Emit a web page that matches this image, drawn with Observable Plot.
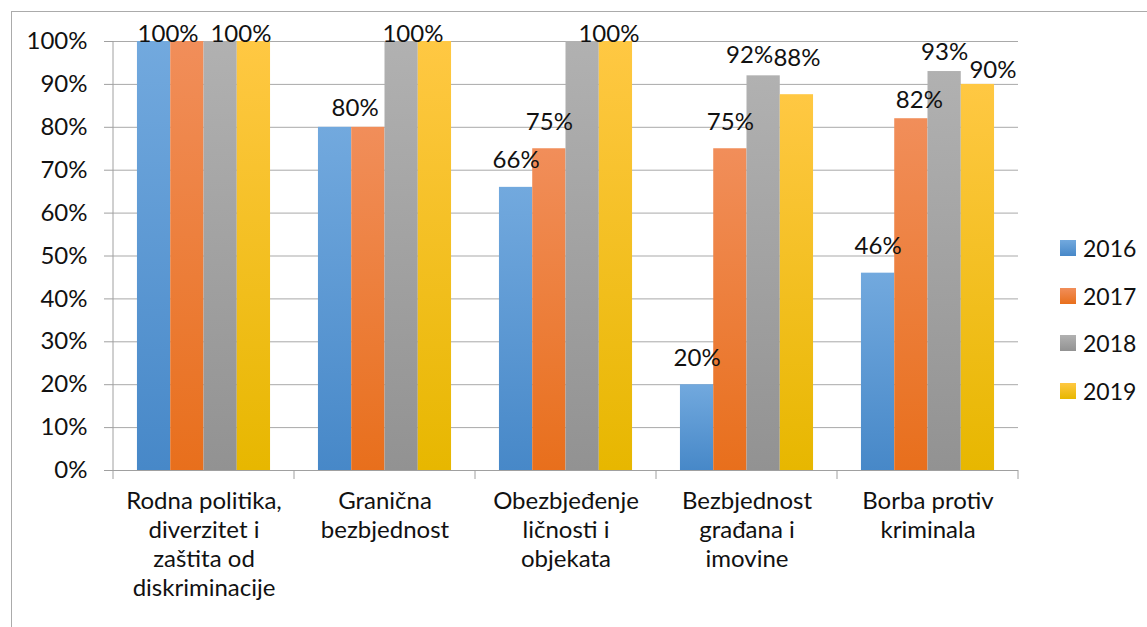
<!DOCTYPE html>
<html>
<head>
<meta charset="utf-8">
<script src="https://cdn.jsdelivr.net/npm/d3@7"></script>
<script src="https://cdn.jsdelivr.net/npm/@observablehq/plot@0.6"></script>
<style>
  html, body { margin: 0; padding: 0; background: #fff; }
  #wrap { position: relative; width: 1147px; height: 627px; overflow: hidden; font-family: Lato, sans-serif; }
  #border { position: absolute; left: 11px; top: 11px; width: 1200px; height: 700px; border-top: 1px solid #ababab; border-left: 1px solid #ababab; }
  #chart { position: absolute; left: 0; top: 0; }
  #legend { position: absolute; left: 1060px; top: 224px; }
  .item { height: 47.7px; display: flex; align-items: center; font-size: 23px; color: #111; }
  .sw { width: 16px; height: 16px; margin-right: 7px; }
</style>
</head>
<body>
<svg width="0" height="0" style="position:absolute">
  <defs id="grads"></defs>
</svg>
<div id="wrap">
  <div id="border"></div>
  <div id="chart"></div>
  <div id="legend"></div>
</div>
<script>
// ---- data ----
const categories = [
  "Rodna politika, diverzitet i zaštita od diskriminacije",
  "Granična bezbjednost",
  "Obezbjeđenje ličnosti i objekata",
  "Bezbjednost građana i imovine",
  "Borba protiv kriminala"
];
const categoryLabels = [
  "Rodna politika,\ndiverzitet i\nzaštita od\ndiskriminacije",
  "Granična\nbezbjednost",
  "Obezbjeđenje\nličnosti i\nobjekata",
  "Bezbjednost\ngrađana i\nimovine",
  "Borba protiv\nkriminala"
];
const years = ["2016", "2017", "2018", "2019"];
const values2016 = [1.00, 0.80, 0.66, 0.20, 0.46];
const values2017 = [1.00, 0.80, 0.75, 0.75, 0.82];
const values2018 = [1.00, 1.00, 1.00, 0.92, 0.93];
const values2019 = [1.00, 1.00, 1.00, 0.876, 0.90];
const yTicks = [0, 0.1, 0.2, 0.3, 0.4, 0.5, 0.6, 0.7, 0.8, 0.9, 1.0];

// which data labels are shown (category index, year)
const shownLabels = [
  [0, "2016"], [0, "2019"],
  [1, "2016"], [1, "2019"],
  [2, "2016"], [2, "2017"], [2, "2019"],
  [3, "2016"], [3, "2017"], [3, "2018"], [3, "2019"],
  [4, "2016"], [4, "2017"], [4, "2018"], [4, "2019"]
];

// ---- styles (manual label nudges, px) ----
const labelNudges = {
  "0|2016": {dx: 14, gap: 0}, "0|2019": {dx: -13, gap: 0},
  "1|2016": {dx: 20, gap: 11}, "1|2019": {dx: -22, gap: 0},
  "2|2019": {dx: -7, gap: 0},
  "3|2018": {dx: -14, gap: 13}, "3|2019": {dx: 0, gap: 29},
  "4|2017": {dx: 8, gap: 11}, "4|2018": {dx: 0, gap: 12}, "4|2019": {dx: 15, gap: 6}
};
const gradStops = {
  "2016": ["#72a9de", "#4788c8"],
  "2017": ["#f18e5a", "#e86f1c"],
  "2018": ["#b1b1b1", "#929292"],
  "2019": ["#ffc843", "#e7b700"]
};
const FS = 24;

// gradients
const defs = d3.select("#grads");
years.forEach(y => {
  const g = defs.append("linearGradient").attr("id", "g" + y)
    .attr("x1", 0).attr("y1", 0).attr("x2", 0).attr("y2", 1);
  g.append("stop").attr("offset", "0%").attr("stop-color", gradStops[y][0]);
  g.append("stop").attr("offset", "100%").attr("stop-color", gradStops[y][1]);
});

const series = [values2016, values2017, values2018, values2019];
const rows = categories.flatMap((c, i) => years.map((y, j) => ({category: c, year: y, value: series[j][i]})));
const fmt = d3.format(".0%");

const labelMarks = shownLabels.map(([ci, y]) => {
  const j = years.indexOf(y);
  const d = {category: categories[ci], year: y, value: series[j][ci]};
  const n = labelNudges[ci + "|" + y] || {dx: 0, gap: 19};
  return Plot.text([d], {
    fx: "category", x: "year", y: "value", text: d => fmt(d.value),
    dx: n.dx, dy: -(n.gap + 0.32 * FS), fontSize: FS, fill: "#111"
  });
});

const labelOf = new Map(categories.map((c, i) => [c, categoryLabels[i]]));

const plot = Plot.plot({
  width: 1147,
  height: 627,
  marginLeft: 113,
  marginRight: 129,
  marginTop: 41,
  marginBottom: 157,
  style: {fontFamily: "Lato, sans-serif", fontSize: FS + "px", background: "transparent", overflow: "visible"},
  fx: {domain: categories, padding: 0, axis: null},
  x: {domain: years, paddingInner: 0, paddingOuter: 0.72, round: false, axis: null},
  y: {domain: [0, 1], axis: null},
  color: {domain: years, range: years.map(y => `url(#g${y})`)},
  marks: [
    Plot.gridY(yTicks, {stroke: "#a9a9a9", strokeOpacity: 1}),
    Plot.barY(rows, {fx: "category", x: "year", y: "value", fill: "year", inset: 0}),
    Plot.ruleY([0], {stroke: "#a0a0a0"}),
    Plot.axisY({ticks: yTicks, tickFormat: fmt, tickSize: 9, tickPadding: 17, fontSize: FS, stroke: "#a0a0a0", fill: "#111", label: null}),
    Plot.axisFx({anchor: "bottom", tickSize: 0, tickPadding: 18, fontSize: FS, lineHeight: 29 / FS, fill: "#111", label: null, tickFormat: c => labelOf.get(c)}),
    ...labelMarks
  ]
});
document.getElementById("chart").appendChild(plot);

// axis line and category separator ticks from the library scales
const fx = plot.scale("fx"), ys = plot.scale("y");
const svg = d3.select(plot);
const y0 = ys.apply(0), y1 = ys.apply(1);
const left = fx.apply(categories[0]);
const edges = categories.map(c => fx.apply(c)).concat([fx.apply(categories[categories.length - 1]) + fx.bandwidth]);
svg.append("line").attr("x1", left).attr("x2", left).attr("y1", y1).attr("y2", y0).attr("stroke", "#a0a0a0");
edges.forEach(e => svg.append("line").attr("x1", e).attr("x2", e).attr("y1", y0).attr("y2", y0 + 9).attr("stroke", "#a0a0a0"));

// legend
const lg = d3.select("#legend");
years.forEach(y => {
  const it = lg.append("div").attr("class", "item");
  it.append("div").attr("class", "sw").style("background", `linear-gradient(${gradStops[y][0]}, ${gradStops[y][1]})`);
  it.append("span").text(y);
});
</script>
</body>
</html>
